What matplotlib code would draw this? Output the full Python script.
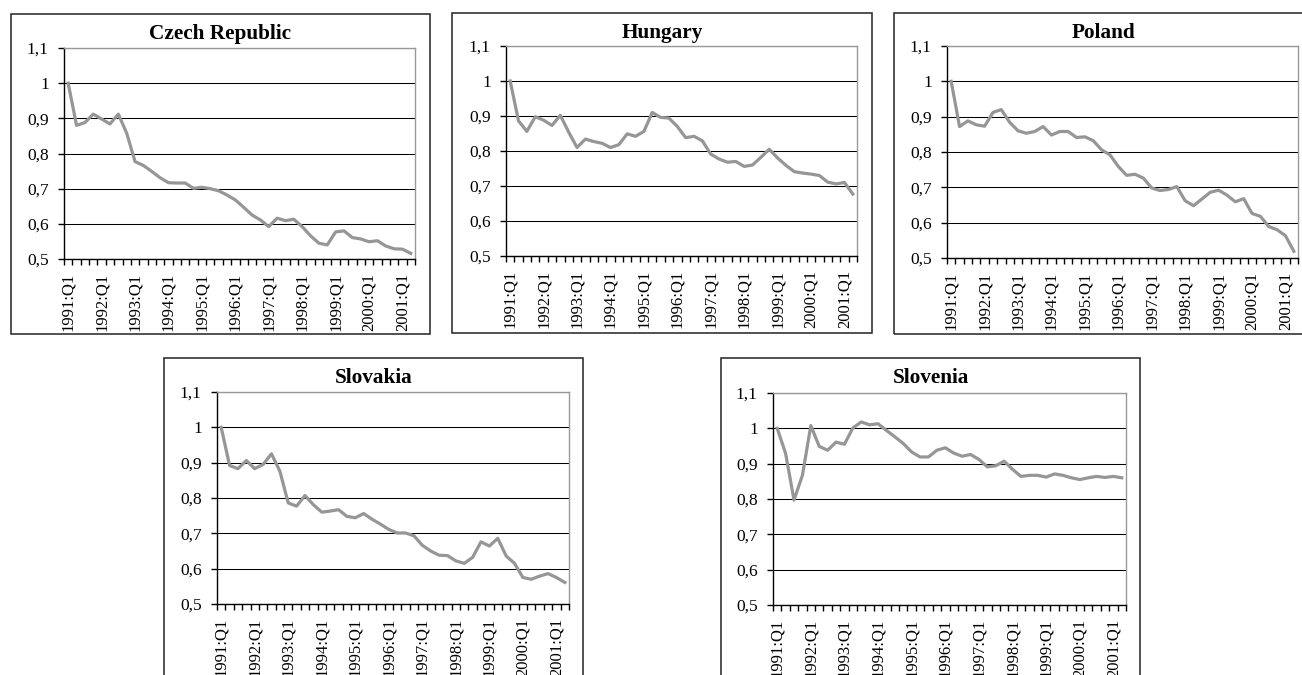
import matplotlib
matplotlib.use('Agg')
import matplotlib.pyplot as plt
from matplotlib.patches import Rectangle

plt.rcParams['font.family'] = ['Liberation Serif', 'DejaVu Serif']

# Quarterly series 1991:Q1 - 2001:Q2 (42 quarters), index 1991:Q1 = 1
czech = [1.000, 0.880, 0.888, 0.912, 0.898, 0.884, 0.912, 0.858, 0.777, 0.766,
         0.749, 0.731, 0.717, 0.716, 0.716, 0.701, 0.704, 0.700, 0.694, 0.682,
         0.668, 0.647, 0.625, 0.611, 0.592, 0.616, 0.609, 0.613, 0.592, 0.566,
         0.545, 0.540, 0.577, 0.580, 0.561, 0.557, 0.549, 0.552, 0.537, 0.529,
         0.528, 0.516]
hungary = [1.000, 0.886, 0.856, 0.898, 0.888, 0.873, 0.902, 0.854, 0.810, 0.834,
           0.827, 0.822, 0.810, 0.818, 0.849, 0.842, 0.856, 0.910, 0.896, 0.894,
           0.870, 0.838, 0.842, 0.829, 0.791, 0.777, 0.768, 0.770, 0.756, 0.760,
           0.782, 0.805, 0.780, 0.759, 0.741, 0.737, 0.734, 0.730, 0.711, 0.706,
           0.710, 0.677]
poland = [1.000, 0.872, 0.888, 0.877, 0.873, 0.912, 0.920, 0.884, 0.860, 0.853,
          0.858, 0.872, 0.848, 0.858, 0.858, 0.841, 0.843, 0.832, 0.806, 0.792,
          0.759, 0.734, 0.737, 0.726, 0.698, 0.691, 0.694, 0.702, 0.662, 0.648,
          0.667, 0.686, 0.692, 0.678, 0.659, 0.668, 0.626, 0.618, 0.589, 0.580,
          0.563, 0.519]
slovakia = [1.000, 0.892, 0.883, 0.906, 0.883, 0.895, 0.925, 0.876, 0.786, 0.777,
            0.807, 0.781, 0.760, 0.763, 0.767, 0.748, 0.744, 0.756, 0.740, 0.726,
            0.711, 0.701, 0.701, 0.693, 0.666, 0.650, 0.638, 0.637, 0.622, 0.615,
            0.632, 0.676, 0.664, 0.686, 0.636, 0.615, 0.575, 0.570, 0.579, 0.586,
            0.575, 0.561]
slovenia = [1.000, 0.929, 0.797, 0.867, 1.008, 0.949, 0.938, 0.961, 0.955, 1.001,
            1.018, 1.010, 1.013, 0.994, 0.976, 0.957, 0.933, 0.919, 0.919, 0.938,
            0.945, 0.930, 0.921, 0.926, 0.912, 0.891, 0.894, 0.907, 0.884, 0.864,
            0.867, 0.867, 0.862, 0.871, 0.867, 0.860, 0.855, 0.860, 0.864, 0.861,
            0.864, 0.860]

x_labels = ['1991:Q1', '1992:Q1', '1993:Q1', '1994:Q1', '1995:Q1', '1996:Q1',
            '1997:Q1', '1998:Q1', '1999:Q1', '2000:Q1', '2001:Q1']
y_ticks = [0.5, 0.6, 0.7, 0.8, 0.9, 1.0, 1.1]
y_labels = ['0,5', '0,6', '0,7', '0,8', '0,9', '1', '1,1']

W, H = 1302, 675
fig = plt.figure(figsize=(W / 100, H / 100), dpi=100)

# (title, data, frame box px [l, t, r, b], axes box px [l, t, r, b], title baseline y)
panels = [
    ('Czech Republic', czech, (11, 14, 430, 334), (64, 48, 415, 259), 39),
    ('Hungary', hungary, (452, 13, 872, 333), (506, 46, 857, 256), 38),
    ('Poland', poland, (894, 13, 1314, 334), (947, 46, 1298, 258), 38),
    ('Slovakia', slovakia, (164, 358, 583, 700), (217, 392, 569, 604), 383),
    ('Slovenia', slovenia, (721, 358, 1140, 700), (773, 393, 1126, 605), 383),
]

for title, vals, frame, box, ty in panels:
    fl, ft, fr, fb = frame
    fig.patches.append(Rectangle((fl / W, 1 - fb / H), (fr - fl) / W, (fb - ft) / H,
                                 transform=fig.transFigure, fill=False,
                                 edgecolor='#222222', linewidth=1.1))
    l, t, r, b = box
    ax = fig.add_axes([l / W, 1 - b / H, (r - l) / W, (b - t) / H])
    n = len(vals)
    ax.plot(range(n), vals, color='#969696', linewidth=2.3, solid_joinstyle='round')
    ax.set_xlim(-0.5, n - 0.5)
    ax.set_ylim(0.5, 1.1)

    ax.set_yticks(y_ticks)
    ax.set_yticklabels(y_labels)
    ax.set_xticks(range(0, n, 4))
    ax.set_xticklabels(x_labels, rotation=90)
    ax.set_xticks([i - 0.5 for i in range(n + 1)], minor=True)
    ax.tick_params(axis='x', which='major', length=0, pad=10, labelsize=12)
    ax.tick_params(axis='x', which='minor', length=4, width=1, direction='out', color='black')
    ax.tick_params(axis='y', length=4, width=1, pad=7, labelsize=12.5)

    ax.yaxis.grid(True, color='black', linewidth=0.75)
    ax.set_axisbelow(True)
    for side in ['left', 'bottom']:
        ax.spines[side].set_color('black')
        ax.spines[side].set_linewidth(1.0)
    for side in ['top', 'right']:
        ax.spines[side].set_color('#999999')
        ax.spines[side].set_linewidth(1.0)

    fig.text((fl + fr) / 2 / W, 1 - ty / H, title, ha='center', va='baseline',
             fontsize=15.3, fontweight='bold')

fig.savefig('out.png', dpi=100)
